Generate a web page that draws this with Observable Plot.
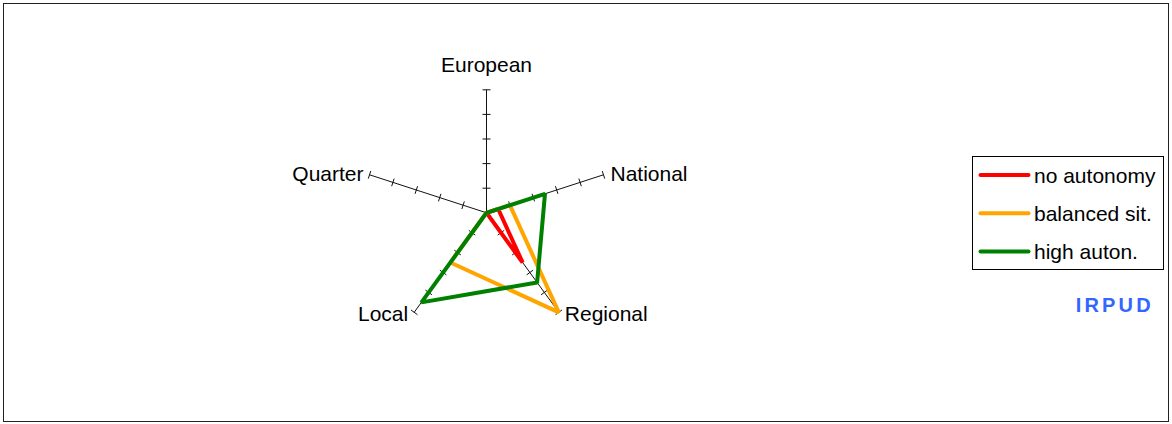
<!DOCTYPE html>
<html>
<head>
<meta charset="utf-8">
<script src="https://cdn.jsdelivr.net/npm/d3@7"></script>
<script src="https://cdn.jsdelivr.net/npm/@observablehq/plot@0.6"></script>
<style>
  body { margin: 0; background: #fff; }
  #wrap { position: relative; width: 1172px; height: 424px; overflow: hidden; background: #fff; }
  #frame { position: absolute; left: 3px; top: 3px; width: 1164px; height: 417px; border: 1px solid #222; }
  #chart { position: absolute; left: 0; top: 0; }
  #overlay { position: absolute; left: 0; top: 0; }
</style>
</head>
<body>
<div id="wrap">
  <div id="frame"></div>
  <div id="chart"></div>
  <svg id="overlay" width="1172" height="424"></svg>
</div>
<script>
// ---- data ----
const categories = ["European", "National", "Regional", "Local", "Quarter"];
const seriesNames = ["no autonomy", "balanced sit.", "high auton."];
const noAutonomy = [0, 0.5, 2.5, 0, 0];
const balancedSit = [0, 1, 5, 2.5, 0];
const highAuton = [0, 2.5, 3.5, 4.5, 0];
const tickValues = [1, 2, 3, 4, 5];
const seriesColors = ["#ff0000", "#ffa500", "#008000"];
const watermark = "IRPUD";

// ---- layout ----
const W = 1172, H = 424;
const cx = 486, cy = 212.3, unit = 24.6; // pixels per value unit
const font = "'Liberation Sans', Arial, sans-serif";
const maxV = d3.max(tickValues);
const n = categories.length;
const ang = i => i * 2 * Math.PI / n;
const vx = (i, v) => v * Math.sin(ang(i));
const vy = (i, v) => v * Math.cos(ang(i));

const seriesValues = [noAutonomy, balancedSit, highAuton];
const pts = [];
seriesValues.forEach((vals, s) => {
  vals.forEach((v, i) => pts.push({series: seriesNames[s], i, v, x: vx(i, v), y: vy(i, v)}));
});

const axes = categories.map((c, i) => ({c, i}));
const tickRows = [];
const h = 4 / unit;
axes.forEach(a => tickValues.forEach(t => {
  const x = vx(a.i, t), y = vy(a.i, t), c = Math.cos(ang(a.i)), s = Math.sin(ang(a.i));
  tickRows.push({x1: x - h * c, y1: y + h * s, x2: x + h * c, y2: y - h * s});
}));

const sinOf = d => Math.sin(ang(d.i));
const cosOf = d => Math.cos(ang(d.i));
const labelMark = (data, opts) => Plot.text(data, {
  x: d => vx(d.i, maxV), y: d => vy(d.i, maxV), text: "c",
  fontSize: 21, fill: "#000", lineAnchor: "middle", ...opts
});
const labTop = axes.filter(d => Math.abs(sinOf(d)) < 0.1);
const labUR = axes.filter(d => sinOf(d) >= 0.1 && cosOf(d) >= 0);
const labLR = axes.filter(d => sinOf(d) >= 0.1 && cosOf(d) < 0);
const labUL = axes.filter(d => sinOf(d) <= -0.1 && cosOf(d) >= 0);
const labLL = axes.filter(d => sinOf(d) <= -0.1 && cosOf(d) < 0);

const chart = Plot.plot({
  width: W, height: H,
  margin: 0,
  x: {domain: [-cx / unit, (W - cx) / unit], range: [0, W], axis: null},
  y: {domain: [-(H - cy) / unit, cy / unit], range: [H, 0], axis: null},
  color: {domain: seriesNames, range: seriesColors},
  style: {fontFamily: font, background: "transparent"},
  marks: [
    Plot.link(axes, {x1: 0, y1: 0, x2: d => vx(d.i, maxV), y2: d => vy(d.i, maxV), stroke: "#111", strokeWidth: 1}),
    Plot.link(tickRows, {x1: "x1", y1: "y1", x2: "x2", y2: "y2", stroke: "#111", strokeWidth: 1}),
    Plot.line(pts, {x: "x", y: "y", z: "series", stroke: "series", strokeWidth: 4, curve: "linear-closed", strokeLinejoin: "miter"}),
    labelMark(labTop, {dy: -25, textAnchor: "middle"}),
    labelMark(labUR, {dx: 7, dy: -0.5, textAnchor: "start"}),
    labelMark(labLR, {dx: 6, dy: 1.5, textAnchor: "start"}),
    labelMark(labUL, {dx: -6, dy: -0.5, textAnchor: "end"}),
    labelMark(labLL, {dx: -6, dy: 1.5, textAnchor: "end"})
  ]
});
document.getElementById("chart").appendChild(chart);

// ---- legend + watermark ----
const ov = d3.select("#overlay").style("font-family", font);
const lg = ov.append("g").attr("transform", "translate(972.5,156.5)");
lg.append("rect").attr("width", 191).attr("height", 113).attr("fill", "#fff").attr("stroke", "#000").attr("stroke-width", 1);
seriesNames.forEach((name, k) => {
  const yc = 18.5 + k * 38.3;
  lg.append("line").attr("x1", 8).attr("x2", 56).attr("y1", yc).attr("y2", yc)
    .attr("stroke", seriesColors[k]).attr("stroke-width", 4).attr("stroke-linecap", "round");
  lg.append("text").attr("x", 61.5).attr("y", yc + 7.5).attr("font-size", 21).attr("fill", "#000").text(name);
});
ov.append("text").attr("x", 1075.7).attr("y", 312).attr("font-size", 20).attr("font-weight", "bold")
  .attr("textLength", 75).attr("lengthAdjust", "spacing").attr("fill", "#3366ff").text(watermark);
</script>
</body>
</html>
